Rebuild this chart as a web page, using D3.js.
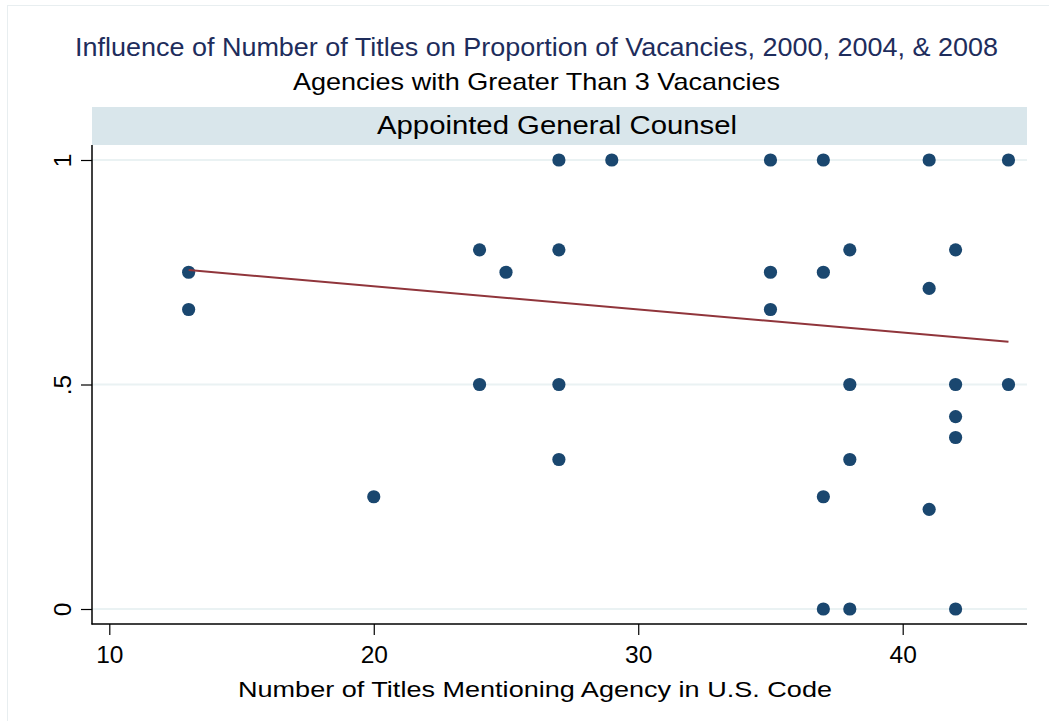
<!DOCTYPE html>
<html>
<head>
<meta charset="utf-8">
<script src="https://cdn.jsdelivr.net/npm/d3@7"></script>
<style>
	body { margin: 0; background: #fff; }
	text { font-family: "Liberation Sans", Arial, sans-serif; }
</style>
</head>
<body>
<script>
// titles
var titleText = 'Influence of Number of Titles on Proportion of Vacancies, 2000, 2004, & 2008';
var subtitleText = 'Agencies with Greater Than 3 Vacancies';
var stripText = 'Appointed General Counsel';
var xTitle = 'Number of Titles Mentioning Agency in U.S. Code';

// scatter values (number of titles, proportion of vacancies)
var titles = [13, 13, 20, 24, 24, 25, 27, 27, 27, 27, 29, 35, 35, 35, 37, 37, 37, 37,
	38, 38, 38, 38, 41, 41, 41, 42, 42, 42, 42, 42, 44, 44];
var proportion = [0.75, 0.667, 0.25, 0.8, 0.5, 0.75, 1, 0.8, 0.5, 0.333, 1, 1, 0.75, 0.667, 1, 0.75, 0.25, 0,
	0.8, 0.5, 0.333, 0, 1, 0.714, 0.222, 0.8, 0.5, 0.4286, 0.382, 0, 1, 0.5];

// fitted line end points
var fitX = [13, 44];
var fitY = [0.755, 0.595];

// ticks
var xTicks = [10, 20, 30, 40];
var yTicks = [0, 0.5, 1];
var yTickLabels = ['0', '.5', '1'];

var props = {
	width: 1049,
	height: 721,
	left: 92,
	right: 1027,
	top: 145,
	bottom: 624
};

var svg = d3.select('body')
	.append('svg')
		.attr('width', props.width)
		.attr('height', props.height);

// faint outer frame
svg.append('rect')
	.attr('x', 7.5)
	.attr('y', 5.5)
	.attr('width', props.width + 20)
	.attr('height', props.height + 20)
	.attr('fill', '#fff')
	.attr('stroke', '#e8eef0')
	.attr('stroke-width', 1);

var x = d3.scaleLinear()
	.domain([9.346, 44.70])
	.range([props.left, props.right]);

var y = d3.scaleLinear()
	.domain([-0.0334, 1.0334])
	.range([props.bottom, props.top]);

// titles (text in the reference is a little wider than Arial, hence textLength)
svg.append('text')
	.attr('x', 536.5)
	.attr('y', 56)
	.attr('text-anchor', 'middle')
	.attr('textLength', 923)
	.attr('lengthAdjust', 'spacingAndGlyphs')
	.style('font-size', '25.5px')
	.attr('fill', '#1e2d5c')
	.text(titleText);

svg.append('text')
	.attr('x', 536.5)
	.attr('y', 90)
	.attr('text-anchor', 'middle')
	.attr('textLength', 487)
	.attr('lengthAdjust', 'spacingAndGlyphs')
	.style('font-size', '24px')
	.attr('fill', '#000')
	.text(subtitleText);

// strip
svg.append('rect')
	.attr('x', props.left)
	.attr('y', 107)
	.attr('width', props.right - props.left)
	.attr('height', props.top - 107)
	.attr('fill', '#d9e6eb');

svg.append('text')
	.attr('x', 557)
	.attr('y', 134)
	.attr('text-anchor', 'middle')
	.attr('textLength', 360)
	.attr('lengthAdjust', 'spacingAndGlyphs')
	.style('font-size', '26px')
	.attr('fill', '#000')
	.text(stripText);

// grid lines
svg.append('g')
	.attr('class', 'grid')
	.selectAll('line')
	.data(yTicks)
	.enter()
	.append('line')
		.attr('x1', props.left)
		.attr('x2', props.right)
		.attr('y1', function(d) { return y(d); })
		.attr('y2', function(d) { return y(d); })
		.attr('stroke', '#eaf2f3')
		.attr('stroke-width', 2);

// y axis
var yAxis = d3.axisLeft(y)
	.tickValues(yTicks)
	.tickFormat(function(d, i) { return yTickLabels[i]; })
	.tickSize(11)
	.tickSizeOuter(0);

var gy = svg.append('g')
	.attr('class', 'y axis')
	.attr('transform', 'translate(' + props.left + ',0)')
	.call(yAxis);
gy.select('.domain').remove();
gy.append('line')
	.attr('x1', 0).attr('x2', 0)
	.attr('y1', props.top).attr('y2', props.bottom + 0.5)
	.attr('stroke', '#000').attr('stroke-width', 1.5);
gy.selectAll('.tick line').attr('stroke', '#000').attr('stroke-width', 1.2);
gy.selectAll('.tick text')
	.attr('x', 0)
	.attr('dy', 0)
	.attr('transform', 'translate(-21.5,0) rotate(-90)')
	.attr('text-anchor', 'middle')
	.style('font-size', '24.5px')
	.attr('fill', '#000');

// x axis
var xAxis = d3.axisBottom(x)
	.tickValues(xTicks)
	.tickSize(11)
	.tickSizeOuter(0);

var gx = svg.append('g')
	.attr('class', 'x axis')
	.attr('transform', 'translate(0,' + props.bottom + ')')
	.call(xAxis);
gx.select('.domain').remove();
gx.append('line')
	.attr('x1', props.left - 0.5).attr('x2', props.right)
	.attr('y1', 0).attr('y2', 0)
	.attr('stroke', '#000').attr('stroke-width', 1.5);
gx.selectAll('.tick line').attr('stroke', '#000').attr('stroke-width', 1.2);
gx.selectAll('.tick text')
	.attr('y', 39)
	.attr('dy', 0)
	.style('font-size', '24.5px')
	.attr('fill', '#000');

svg.append('text')
	.attr('x', 535)
	.attr('y', 697)
	.attr('text-anchor', 'middle')
	.attr('textLength', 594)
	.attr('lengthAdjust', 'spacingAndGlyphs')
	.style('font-size', '22.5px')
	.attr('fill', '#000')
	.text(xTitle);

// points
svg.append('g')
	.attr('class', 'points')
	.selectAll('circle')
	.data(titles)
	.enter()
	.append('circle')
		.attr('cx', function(d) { return x(d); })
		.attr('cy', function(d, i) { return y(proportion[i]); })
		.attr('r', 6.6)
		.attr('fill', '#1a476f');

// fitted line
var line = d3.line()
	.x(function(d) { return x(d); })
	.y(function(d, i) { return y(fitY[i]); });

svg.append('path')
	.datum(fitX)
	.attr('d', line)
	.attr('fill', 'none')
	.attr('stroke', '#90353b')
	.attr('stroke-width', 2);
</script>
</body>
</html>
